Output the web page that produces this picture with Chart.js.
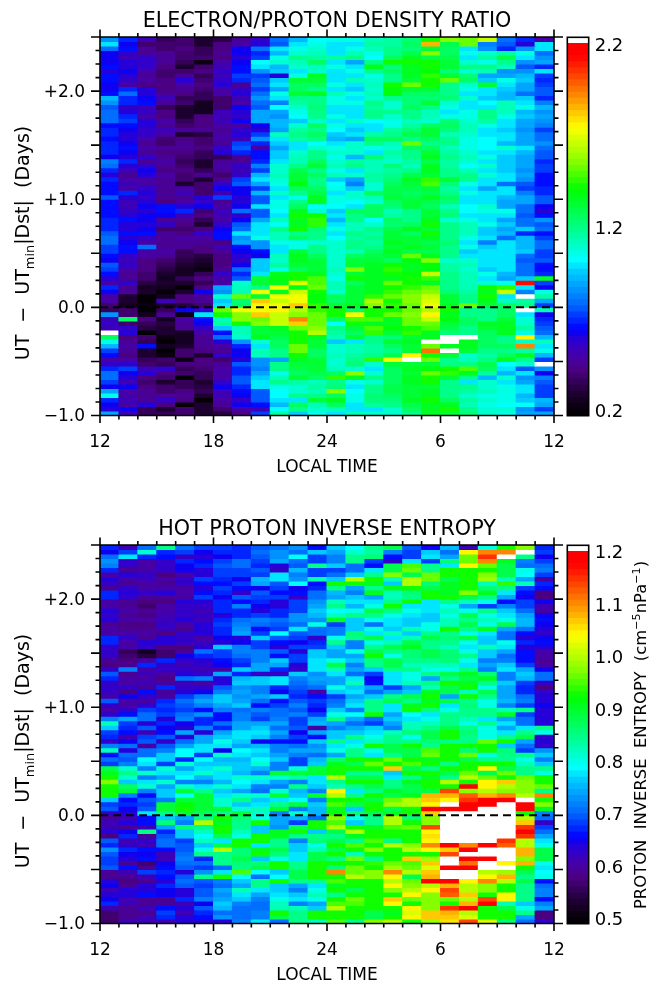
<!DOCTYPE html>
<html><head><meta charset="utf-8">
<style>html,body{margin:0;padding:0;background:#fff;overflow:hidden}canvas{position:absolute}</style>
<script src="https://cdn.jsdelivr.net/npm/chart.js@4"></script></head><body>
<canvas id="h1" width="650" height="476" style="left:0;top:0"></canvas>
<canvas id="c1" width="90" height="476" style="left:560px;top:0"></canvas>
<canvas id="h2" width="650" height="476" style="left:0;top:508px"></canvas>
<canvas id="c2" width="90" height="476" style="left:560px;top:508px"></canvas>
<script>
// density ratio x100, one row per hour from +2.5 d (top) to -1.0 d, columns 12..12 LT
const ratioRows=[
[85,70,52,36,38,30,32,45,55,78,93,103,104,104,112,115,122,140,155,150,165,78,70,50],
[98,62,40,38,38,30,42,50,60,75,100,104,100,100,115,116,125,185,128,150,82,76,58,100],
[80,66,44,40,42,36,42,62,78,97,104,108,100,106,112,118,122,132,125,98,84,68,85,100],
[62,55,46,44,40,36,44,62,70,92,108,112,100,112,104,118,128,155,125,106,108,115,106,78],
[62,52,54,46,38,38,42,60,72,104,118,116,115,118,102,124,136,128,128,100,115,128,100,85],
[62,58,55,45,36,22,50,62,102,108,112,124,100,90,118,140,142,140,130,108,104,118,85,88],
[66,60,56,42,30,40,52,64,100,93,108,112,104,98,135,122,136,140,130,118,118,112,76,68],
[58,62,48,38,38,42,56,66,85,95,100,108,100,104,118,125,134,138,122,108,112,85,84,100],
[66,60,46,40,44,36,52,72,72,60,106,136,98,100,106,120,135,145,132,122,88,90,92,72],
[64,55,50,42,58,40,55,68,76,95,130,130,100,112,110,118,130,140,150,125,96,104,95,70],
[62,50,42,42,50,42,58,45,78,100,125,126,104,100,112,140,150,140,118,108,130,100,90,72],
[62,68,60,42,44,40,50,56,72,90,125,118,98,96,108,138,130,132,120,106,100,95,90,75],
[64,78,58,46,42,34,48,58,80,104,132,135,112,104,112,138,125,125,118,100,98,92,80,75],
[92,68,62,52,36,34,38,52,85,100,120,118,106,100,110,118,122,122,122,108,95,92,95,70],
[85,68,66,45,40,25,38,50,78,82,115,118,105,104,118,108,122,130,108,98,102,112,100,82],
[76,55,52,35,30,25,38,62,75,102,108,122,100,100,116,108,125,118,106,100,98,112,105,92],
[80,60,56,42,30,25,52,58,88,88,105,120,100,98,118,118,118,112,100,105,118,112,92,85],
[78,68,50,42,28,42,52,56,88,85,102,118,104,98,118,110,118,112,104,106,120,105,95,88],
[78,72,60,48,34,42,52,62,88,92,95,108,100,108,102,104,112,108,122,110,115,98,88,84],
[64,64,60,44,40,42,50,50,62,92,110,125,105,98,100,104,115,125,125,112,105,100,88,82],
[70,62,54,52,44,44,46,56,60,90,115,118,102,95,100,116,122,130,122,112,100,95,85,72],
[68,60,54,48,28,32,48,60,72,112,118,125,95,98,115,118,128,130,112,108,100,100,90,78],
[66,58,48,40,42,38,50,52,85,100,116,120,92,90,125,125,120,125,118,105,102,98,88,78],
[70,62,46,38,44,40,44,72,68,94,100,102,98,108,118,112,152,120,118,105,102,92,90,84],
[68,64,48,46,46,42,56,74,50,90,98,108,106,108,104,108,125,125,112,105,102,108,100,78],
[70,62,46,42,42,36,60,68,66,96,108,118,108,110,100,115,118,130,115,108,100,100,92,76],
[62,58,54,46,40,34,34,44,64,96,112,120,104,92,122,112,118,135,118,112,105,95,90,75],
[82,70,44,50,34,30,44,44,70,100,112,125,110,115,112,110,115,128,115,108,98,95,90,68],
[80,60,56,46,38,30,50,56,82,110,118,130,112,118,112,122,112,136,115,102,108,95,88,72],
[68,52,62,42,42,36,44,52,72,108,128,120,105,100,112,116,120,135,118,112,100,96,85,72],
[60,44,58,48,40,44,38,56,92,112,130,124,112,108,115,118,128,130,118,118,108,100,90,64],
[68,50,48,44,38,28,46,72,100,108,130,120,95,88,115,122,135,145,130,118,100,98,85,64],
[66,52,50,46,30,38,56,74,88,104,138,118,102,82,108,125,130,148,122,104,98,80,74,66],
[64,50,56,46,50,40,62,62,72,100,124,124,105,96,108,128,128,130,116,100,88,98,72,68],
[66,70,60,46,52,40,52,62,92,108,118,128,100,108,124,128,126,128,120,106,100,98,82,70],
[76,58,56,44,44,58,72,60,74,100,105,136,104,110,112,132,128,135,125,100,100,92,88,74],
[66,52,58,42,50,56,46,58,74,104,118,136,106,102,110,125,130,128,122,100,100,90,90,76],
[64,52,62,66,60,62,50,62,100,106,125,102,102,100,124,122,132,125,112,102,108,90,80,62],
[64,56,60,66,68,40,52,78,74,102,134,108,95,125,125,112,118,130,118,102,104,104,78,60],
[64,60,62,62,52,42,52,56,76,100,140,140,100,120,125,115,120,132,122,100,100,100,75,66],
[70,64,62,46,44,36,50,62,88,112,136,145,92,118,102,125,120,136,108,105,100,88,80,85],
[70,58,60,56,42,28,56,74,98,102,136,145,98,112,108,122,125,140,120,112,105,96,78,74],
[70,60,62,40,38,42,62,78,100,118,140,122,104,112,118,128,134,130,118,112,95,88,95,80],
[75,66,64,44,42,56,64,100,100,112,120,120,100,118,115,130,125,140,120,112,95,92,70,65],
[80,60,56,46,50,50,64,85,104,112,125,120,101,115,118,130,130,135,118,105,100,78,92,72],
[78,62,50,44,44,44,42,90,85,105,105,110,110,120,115,135,130,128,122,100,82,100,92,78],
[72,64,78,46,46,42,52,66,85,100,105,118,108,120,118,132,136,130,118,105,95,100,92,80],
[72,66,50,50,36,42,44,62,66,100,130,120,110,112,125,136,128,128,118,95,100,100,95,72],
[66,55,50,44,34,32,42,58,62,112,136,124,110,125,128,130,150,135,118,100,100,100,80,72],
[62,52,42,38,32,28,42,55,95,110,136,130,108,130,130,125,138,155,110,108,100,98,75,74],
[74,55,42,35,30,26,42,62,95,116,130,130,110,130,135,140,135,138,115,112,100,100,78,65],
[72,50,42,32,26,22,44,78,95,104,124,132,112,155,135,145,136,138,115,110,96,100,78,66],
[64,45,40,30,26,34,55,70,100,136,140,136,108,130,135,140,138,165,118,112,105,92,78,70],
[58,45,40,26,34,42,50,76,130,138,140,148,105,140,135,136,140,145,118,112,100,90,96,135],
[50,54,32,30,28,36,50,108,130,136,168,148,112,125,135,150,142,135,118,112,108,105,213,72],
[70,44,26,24,20,42,90,112,120,172,136,150,112,130,135,140,145,150,118,112,140,145,98,62],
[62,44,28,20,30,62,84,112,172,136,165,140,108,130,135,145,150,155,122,115,135,165,82,105],
[50,30,18,25,42,44,108,150,132,172,172,138,125,130,145,150,155,165,130,118,140,98,230,115],
[50,30,20,52,42,46,95,122,182,165,172,138,125,130,160,140,155,168,132,120,135,112,115,90],
[40,25,22,28,32,38,100,124,176,170,180,146,130,135,155,145,150,172,135,150,130,125,118,72],
[34,38,20,34,62,56,150,172,172,174,160,145,140,125,140,140,152,160,140,118,118,125,230,112],
[85,40,24,44,22,98,140,155,183,165,156,150,140,172,140,150,155,176,135,118,118,125,100,62],
[52,125,42,26,50,66,112,155,150,165,192,152,125,148,148,135,150,165,138,125,118,130,108,68],
[55,38,34,32,46,62,116,140,155,165,182,150,102,140,135,135,150,150,132,125,135,136,110,72],
[52,54,32,30,46,56,95,112,130,136,150,155,118,130,148,138,142,148,128,118,130,136,116,76],
[230,58,20,28,25,48,66,112,132,132,142,162,115,125,145,130,145,135,122,118,125,135,105,78],
[125,42,38,22,24,44,78,110,135,128,142,135,112,130,118,122,130,135,230,230,125,120,176,92],
[105,44,34,20,24,44,58,85,108,125,142,130,96,100,118,130,135,230,230,135,125,118,110,112],
[92,50,64,24,28,44,48,70,100,125,150,132,108,112,115,125,130,150,135,135,125,125,192,100],
[72,44,30,20,38,42,44,62,112,120,152,125,108,112,116,120,130,195,230,130,118,120,115,104],
[64,42,28,22,40,28,54,62,112,120,140,124,112,115,118,128,176,140,130,108,115,125,135,92],
[48,48,36,38,22,42,40,60,84,90,135,130,108,118,145,170,230,150,118,112,118,135,118,72],
[55,54,38,36,42,42,46,75,84,118,130,132,108,122,110,130,130,130,118,120,128,102,108,230],
[68,72,52,54,36,40,50,68,82,120,128,130,112,108,100,125,135,138,140,148,125,100,74,85],
[77,62,60,42,38,36,48,70,88,106,126,128,125,155,108,125,130,150,145,135,115,92,100,62],
[77,60,42,40,20,34,48,75,95,112,130,126,145,135,118,125,135,140,130,118,92,108,85,82],
[72,52,40,30,34,30,55,75,98,120,115,112,118,105,110,125,135,142,120,100,108,98,88,76],
[62,62,42,38,36,32,62,70,100,104,108,114,122,98,118,128,132,132,118,118,108,105,100,72],
[88,50,46,38,42,34,52,66,76,102,108,112,155,102,118,128,130,135,118,115,112,104,98,72],
[105,50,44,46,44,30,52,62,74,102,120,118,125,105,122,125,130,135,120,110,104,104,92,72],
[70,52,46,56,42,20,50,55,74,100,98,132,135,105,122,122,135,140,125,115,108,105,95,92],
[62,50,60,42,18,30,46,62,64,92,126,112,125,100,115,118,128,135,135,112,104,102,102,88],
[60,62,36,28,40,30,40,48,52,102,118,110,112,100,100,108,125,135,140,118,108,108,85,72],
[90,52,35,35,38,28,32,42,72,115,96,104,100,112,108,108,118,135,130,122,108,104,90,90]];
// inverse entropy x100, same grid
const entropyRows=[
[67,61,71,84,71,68,68,67,69,70,73,66,76,79,84,88,69,65,75,61,80,92,97,67],
[65,68,81,67,68,65,67,67,70,73,70,76,74,81,83,72,68,76,70,104,110,110,125,68],
[70,77,67,66,62,64,65,67,69,73,79,68,72,84,86,66,68,78,74,96,115,125,84,65],
[73,62,60,62,67,66,68,70,68,74,70,68,72,84,68,62,78,68,86,96,110,90,72,68],
[72,62,60,62,65,67,69,70,67,64,69,84,76,70,66,88,95,84,78,104,96,88,70,70],
[67,59,60,62,65,64,68,68,69,62,75,68,68,70,78,88,96,84,92,92,92,88,80,72],
[60,63,62,58,60,63,68,68,68,78,72,68,70,76,84,97,88,96,92,92,97,88,79,68],
[64,60,61,60,62,68,67,65,75,78,73,82,76,100,92,82,100,96,88,92,98,82,74,60],
[62,59,60,59,62,66,66,68,74,69,79,66,92,92,90,76,100,86,90,92,82,94,82,67],
[59,62,60,60,60,63,68,66,65,68,65,67,84,74,84,90,92,88,90,92,86,84,68,66],
[67,64,62,63,60,66,67,62,69,66,66,71,75,72,90,82,86,92,90,97,90,78,66,58],
[67,62,59,59,60,68,65,69,68,68,62,71,74,76,74,82,84,92,92,88,84,74,65,58],
[60,59,58,58,63,63,67,66,67,64,68,73,82,78,78,85,92,78,84,82,80,66,68,65],
[60,59,57,60,62,62,67,72,65,63,68,74,84,75,80,92,78,78,80,74,68,72,68,61],
[64,60,59,60,62,61,67,67,64,67,68,76,79,80,88,84,80,78,82,80,84,76,70,60],
[62,59,58,61,62,62,64,67,68,67,73,75,82,84,84,80,78,76,80,88,80,78,74,65],
[64,60,60,61,63,61,67,71,72,70,73,73,90,76,80,78,76,76,82,84,82,80,75,66],
[59,58,58,62,60,64,68,72,70,69,71,80,68,76,70,78,76,80,82,88,80,88,75,65],
[60,59,59,61,59,63,67,73,66,68,78,70,72,76,80,76,82,80,92,84,90,74,70,63],
[60,60,60,58,62,64,67,74,68,79,69,70,72,86,78,82,76,84,84,80,78,70,66,62],
[67,62,59,63,62,60,65,64,76,69,68,62,80,84,88,78,82,88,86,88,76,70,64,65],
[67,60,64,63,62,61,64,65,68,66,65,67,84,72,80,82,88,84,84,80,76,80,67,66],
[62,60,62,58,58,64,76,72,68,64,68,68,76,72,84,88,90,84,82,78,82,78,64,64],
[62,55,52,57,59,70,68,72,72,69,64,76,74,80,88,84,86,88,86,80,76,74,66,60],
[62,56,54,57,65,67,68,70,72,66,68,76,74,74,92,80,86,88,86,84,76,70,66,60],
[59,58,60,67,62,64,66,68,72,76,68,78,80,76,84,88,84,84,86,80,72,72,66,59],
[58,59,67,62,61,62,65,67,74,74,63,78,88,72,84,88,82,82,82,78,74,76,68,60],
[62,72,60,62,62,61,60,76,74,67,62,78,82,74,76,84,84,80,80,84,72,78,74,65],
[69,59,61,60,64,62,74,67,62,62,76,73,78,70,68,78,80,84,88,90,86,72,76,70],
[67,60,60,58,70,72,64,75,76,78,72,74,74,78,65,78,80,74,84,88,90,72,75,71],
[62,60,61,60,61,60,64,76,76,78,70,73,74,82,66,78,82,84,92,90,84,76,68,62],
[62,62,59,67,62,62,69,73,72,67,69,71,80,76,74,68,74,82,88,92,80,74,67,58],
[62,58,66,59,64,65,72,74,72,65,68,60,76,78,70,74,76,90,88,82,88,74,67,62],
[60,65,62,60,68,72,76,73,74,76,67,66,68,74,76,84,88,92,74,92,84,74,70,64],
[69,60,60,67,70,74,76,74,70,66,69,68,70,76,84,88,84,90,88,84,80,75,72,64],
[62,60,62,68,69,72,74,76,66,68,72,67,72,78,84,78,90,92,78,86,80,72,68,65],
[60,62,68,67,68,66,72,70,72,70,69,65,76,72,84,78,92,86,80,84,84,82,84,64],
[62,66,71,68,71,73,66,72,69,70,72,68,80,79,92,74,79,78,84,84,84,90,68,63],
[72,74,70,64,72,67,66,72,68,72,68,74,84,74,70,76,78,80,84,82,78,74,70,63],
[82,68,64,67,65,67,70,74,74,74,68,75,74,70,68,74,82,82,84,80,84,78,70,64],
[76,67,69,65,64,72,67,74,76,70,69,60,72,74,76,72,82,84,88,84,80,74,78,84],
[68,66,61,66,74,64,74,78,78,74,65,74,76,76,78,82,86,88,92,86,80,78,84,80],
[67,61,68,69,64,74,76,78,76,72,68,66,76,84,80,84,80,88,92,84,80,84,88,62],
[62,65,69,62,70,74,80,76,65,66,66,76,84,78,82,84,84,86,84,84,96,92,74,64],
[72,70,60,69,74,77,77,74,75,72,70,73,78,80,92,88,92,84,92,92,92,76,71,62],
[82,64,70,72,79,77,65,79,77,72,74,74,80,84,80,88,88,95,92,86,92,86,68,73],
[66,70,70,76,79,68,81,77,76,74,72,70,74,84,78,84,88,96,92,96,80,84,84,76],
[70,69,79,76,67,79,75,75,79,76,68,75,86,92,92,96,92,90,92,88,84,84,80,72],
[68,72,77,68,81,76,76,76,81,72,68,76,90,88,96,92,95,92,84,92,92,92,82,76],
[88,81,72,81,74,77,81,76,75,72,81,89,92,92,92,107,88,84,92,92,104,88,84,84],
[90,85,81,77,77,81,77,75,72,89,89,89,92,84,84,76,92,92,88,96,88,96,84,80],
[92,81,72,74,79,75,77,81,81,81,83,77,100,88,88,78,84,90,84,100,96,92,96,92],
[97,76,77,81,72,72,75,79,77,74,72,77,84,92,92,84,90,92,100,92,104,107,97,92],
[92,87,81,74,81,77,81,77,72,72,85,76,82,84,88,84,88,92,92,118,104,100,97,96],
[92,89,72,76,89,85,76,74,70,81,75,72,104,78,84,90,88,88,114,97,100,97,97,84],
[92,72,66,76,79,89,77,81,81,89,76,89,100,84,92,88,90,108,108,112,108,110,100,110],
[76,66,69,72,89,89,81,85,76,77,79,72,92,92,88,96,100,107,104,115,118,118,125,92],
[68,67,68,89,91,89,81,76,77,85,89,76,95,88,92,98,100,104,125,118,118,125,118,97],
[69,65,69,89,92,89,89,81,82,89,72,75,90,76,92,88,92,118,118,118,125,125,118,90],
[62,64,77,85,89,87,85,89,81,72,81,75,92,86,88,90,92,107,125,125,125,125,92,72],
[59,61,66,76,74,84,92,86,80,74,75,70,97,80,84,100,86,97,125,125,125,125,100,70],
[61,63,66,86,72,100,90,84,92,74,68,92,95,76,84,100,92,97,125,125,125,125,107,62],
[61,59,61,74,86,84,92,85,76,73,88,92,100,92,90,95,96,113,125,125,125,125,115,68],
[64,65,84,67,76,82,92,82,76,90,92,76,88,100,92,92,92,104,125,125,125,125,118,70],
[58,67,59,69,76,79,88,80,92,90,84,84,84,90,92,92,92,105,125,125,125,125,115,74],
[69,61,62,70,68,82,78,92,92,84,72,86,88,84,95,85,92,104,125,125,125,115,100,78],
[67,62,61,70,69,76,88,92,78,84,76,80,92,95,92,100,97,110,118,110,118,112,100,80],
[73,67,66,66,69,80,100,86,90,88,76,82,88,92,97,92,100,104,107,118,125,125,108,88],
[69,65,65,61,70,84,84,86,92,86,78,88,92,82,92,92,92,92,114,125,125,125,108,88],
[68,63,66,61,72,67,84,88,76,80,78,88,84,96,84,92,107,98,125,118,118,125,97,88],
[68,59,57,65,70,70,84,86,86,92,84,92,92,92,94,96,95,107,125,111,125,104,108,80],
[69,66,59,66,69,68,71,84,88,92,84,92,86,96,92,98,96,102,118,118,125,125,92,78],
[59,61,68,67,64,73,78,95,79,76,88,92,110,96,97,110,100,107,125,125,100,98,88,79],
[59,59,61,66,69,84,92,79,70,79,88,92,92,100,97,104,88,108,125,125,104,108,85,80],
[64,58,59,63,70,69,72,76,84,92,84,84,95,92,92,100,96,118,118,104,110,100,88,66],
[65,59,63,67,69,68,70,74,84,76,74,78,90,92,92,104,97,100,108,100,97,92,84,70],
[61,63,64,65,63,69,74,82,78,76,72,80,92,88,92,97,100,104,114,100,97,92,84,72],
[64,64,66,65,63,69,73,78,74,78,76,82,84,92,92,92,104,97,112,107,92,104,84,72],
[65,61,59,59,67,72,74,76,72,80,78,80,92,96,92,107,96,97,96,100,113,104,84,66],
[67,61,59,59,61,65,76,72,70,82,72,74,95,95,92,104,92,97,92,108,118,82,76,72],
[61,59,61,66,63,69,75,70,70,82,82,76,100,92,92,92,104,97,115,118,92,88,80,74],
[57,59,59,68,61,67,70,70,72,92,84,92,92,92,88,90,102,107,108,100,92,92,84,58],
[57,59,61,67,63,66,73,70,72,88,84,92,92,92,88,92,104,107,107,102,92,92,74,58],
[56,61,61,61,64,63,64,72,78,70,84,82,95,84,97,100,92,98,105,113,102,86,70,62]];
const ltStart=12, ltEnd=36, dayTop=2.5, dayBottom=-1.0;
const ratioTicks=[0.2,1.2,2.2];
const entropyTicks=[0.5,0.6,0.7,0.8,0.9,1.0,1.1,1.2];
const ratioBarRange=[0.167,2.233];
const entropyBarRange=[0.4885,1.2115];
const FONT='"DejaVu Sans"';
const ramp=[[0,0,0,0],[.05,25,0,40],[.086,50,0,85],[.12,75,0,130],[.157,70,0,170],[.2,40,0,215],[.227,0,0,255],[.29,0,100,255],[.377,0,200,255],[.41,0,255,255],[.49,0,255,140],[.597,0,255,0],[.667,130,255,0],[.76,255,255,0],[.85,255,130,0],[.918,255,40,0],[.95,255,0,0],[.984,255,0,0]];
const BANDS=62;
function colorAt(f){
  if(f>=.984)return '#fff';
  f=Math.max(0,(Math.floor(f*BANDS)+.5)/BANDS);
  for(let i=1;i<ramp.length;i++){if(f<=ramp[i][0]){const a=ramp[i-1],b=ramp[i],t=(f-a[0])/(b[0]-a[0]);
    return `rgb(${[1,2,3].map(k=>Math.round(a[k]+(b[k]-a[k])*t)).join(',')})`;}}
  return '#fff';
}
function textRuns(ctx,runs,x,y,size,rotate){
  ctx.save();ctx.translate(x,y);if(rotate)ctx.rotate(-Math.PI/2);
  ctx.fillStyle='#000';ctx.textBaseline='alphabetic';ctx.textAlign='left';
  let w=0;runs.forEach(r=>{ctx.font=`${r.s?size*.68:size}px ${FONT}`;w+=ctx.measureText(r.t).width;});
  let p=-w/2;
  runs.forEach(r=>{ctx.font=`${r.s?size*.68:size}px ${FONT}`;ctx.fillText(r.t,p,size*.36+(r.s||0)*size);p+=ctx.measureText(r.t).width;});
  ctx.restore();
}
const boxTicks={id:'boxTicks',afterDraw(c){
  const {ctx,chartArea:a,scales:{x,y}}=c;
  ctx.save();ctx.strokeStyle='#000';ctx.lineWidth=1.6;ctx.beginPath();
  x.ticks.forEach(t=>{const p=x.getPixelForValue(t.value),L=(t.value%6===0)?7.5:4;
    ctx.moveTo(p,a.bottom);ctx.lineTo(p,a.bottom+L);ctx.moveTo(p,a.top);ctx.lineTo(p,a.top-L);});
  y.ticks.forEach(t=>{const p=y.getPixelForValue(t.value),L=(Math.abs(t.value*2-Math.round(t.value*2))<1e-6)?9:4.5;
    ctx.moveTo(a.left,p);ctx.lineTo(a.left-L,p);ctx.moveTo(a.right,p);ctx.lineTo(a.right+L,p);});
  ctx.rect(a.left,a.top,a.right-a.left,a.bottom-a.top);ctx.stroke();ctx.restore();
  textRuns(ctx,[{t:'UT  \u2212  UT'},{t:'min',s:.28},{t:'|Dst|  (Days)'}],22,243,19,true);
}};
function heat(id,title,rows,range){
  const ds=rows.map((row,r)=>({
    type:'bar',order:2,grouped:false,barPercentage:1,categoryPercentage:1,borderWidth:0,inflateAmount:.5,
    data:row.map((v,c)=>({x:ltStart+c+.5,y:[dayTop-(r+1)/24,dayTop-r/24]})),
    backgroundColor:row.map(v=>colorAt((v/100-range[0])/(range[1]-range[0])))
  }));
  ds.push({type:'line',order:1,data:[{x:ltStart,y:0},{x:ltEnd,y:0}],borderColor:'#000',borderWidth:2,borderDash:[8,5],pointRadius:0,clip:false});
  new Chart(document.getElementById(id),{type:'bar',data:{datasets:ds},plugins:[boxTicks],options:{
    responsive:false,animation:false,events:[],devicePixelRatio:1,
    layout:{padding:{left:0,right:96,top:0,bottom:0}},
    plugins:{legend:{display:false},tooltip:{enabled:false},
      title:{display:true,text:title,fullSize:false,color:'#000',font:{family:FONT,size:20.7,weight:'normal',lineHeight:1.2},padding:{top:9,bottom:3.2}}},
    scales:{
      x:{type:'linear',min:ltStart,max:ltEnd,offset:false,grid:{display:false,drawTicks:false},border:{display:false},
        afterFit(s){s.height=60.5},
        ticks:{stepSize:1,autoSkip:false,maxRotation:0,color:'#000',padding:17,font:{family:FONT,size:17},
          callback:v=>v%6===0?String(v>24?v-24:v):''},
        title:{display:true,text:'LOCAL TIME',color:'#000',font:{family:FONT,size:17,lineHeight:1},padding:{top:0,bottom:0}}},
      y:{type:'linear',min:dayBottom,max:dayTop,grid:{display:false,drawTicks:false},border:{display:false},
        afterFit(s){s.width=100},
        ticks:{stepSize:.125,autoSkip:false,color:'#000',padding:15,labelOffset:1.5,font:{family:FONT,size:17},
          callback:v=>Number.isInteger(v)?(v>0?'+':v<0?'\u2212':'')+Math.abs(v).toFixed(1):''}}
    }}});
}
function cbar(id,range,tickVals,side){
  const step=(range[1]-range[0])/BANDS, ds=[];
  for(let i=0;i<=BANDS;i++){
    const lo=range[0]+i*step;
    ds.push({grouped:false,barPercentage:1,categoryPercentage:1,borderWidth:0,inflateAmount:.5,
      data:[[lo,Math.min(lo+step,range[1])]],backgroundColor:colorAt((i+.5)/BANDS)});
  }
  new Chart(document.getElementById(id),{type:'bar',data:{labels:['v'],datasets:ds},plugins:[{id:'frame',afterDraw(c){
      const {ctx,chartArea:a}=c;ctx.save();ctx.strokeStyle='#000';ctx.lineWidth=1.6;ctx.strokeRect(a.left,a.top,a.right-a.left,a.bottom-a.top);ctx.restore();
      if(side)textRuns(ctx,side,80,227,16.4,true);
    }}],options:{
    responsive:false,animation:false,events:[],devicePixelRatio:1,
    layout:{padding:{left:7.3,right:0,top:37.3,bottom:60.3}},
    plugins:{legend:{display:false},tooltip:{enabled:false},title:{display:false}},
    scales:{
      x:{display:false},
      y:{type:'linear',position:'right',min:range[0],max:range[1],grid:{display:false,drawTicks:false},border:{display:false},
        afterFit(s){s.width=61.3},afterBuildTicks(s){s.ticks=tickVals.map(v=>({value:v}))},
        ticks:{autoSkip:false,color:'#000',padding:6,labelOffset:2.5,font:{family:FONT,size:18},callback:v=>v.toFixed(1)}}
    }}});
}
heat('h1','ELECTRON/PROTON DENSITY RATIO',ratioRows,ratioBarRange);
cbar('c1',ratioBarRange,ratioTicks,null);
heat('h2','HOT PROTON INVERSE ENTROPY',entropyRows,entropyBarRange);
cbar('c2',entropyBarRange,entropyTicks,[{t:'PROTON  INVERSE  ENTROPY  (cm'},{t:'\u22125',s:-.38},{t:'nPa'},{t:'\u22121',s:-.38},{t:')'}]);
</script></body></html>
